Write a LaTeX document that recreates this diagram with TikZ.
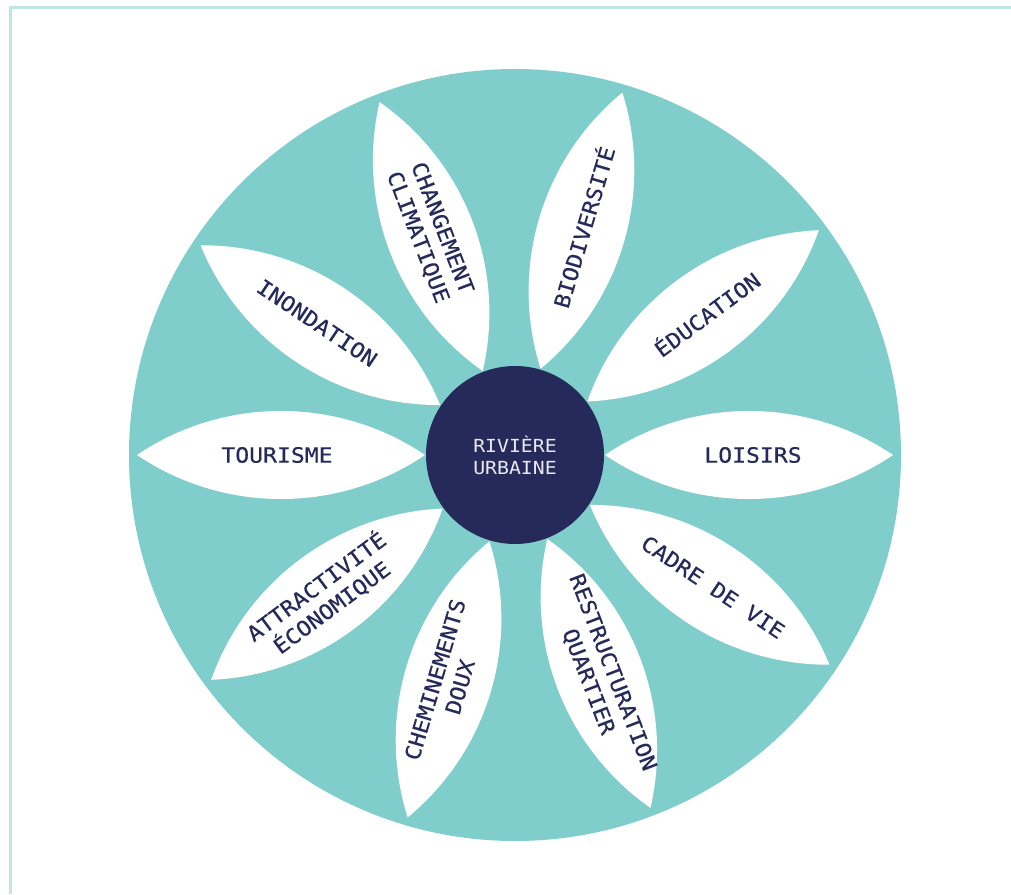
\documentclass[tikz,border=0pt]{standalone}
\usepackage{fontspec}
\newfontfamily\petalfont[FakeStretch=1.1,FakeBold=0.5]{DejaVu Sans Mono}
\newfontfamily\hubfont[FakeStretch=1.1]{DejaVu Sans Mono}
\definecolor{petalteal}{HTML}{80CECB}
\definecolor{darknavy}{HTML}{252A5A}
\definecolor{framecol}{HTML}{BFE6E4}
\definecolor{centertext}{HTML}{E8E8F0}
\tikzset{
  petaltext/.style={text=darknavy, font=\petalfont\fontsize{21}{26}\selectfont, align=center, inner sep=0pt},
  hubtext/.style={text=centertext, font=\hubfont\fontsize{18}{22.3}\selectfont, align=center, inner sep=0pt},
  petalshape/.style={fill=white},
}
\begin{document}
\begin{tikzpicture}[x=1pt,y=1pt]
\useasboundingbox (0,0) rectangle (1011,894);
\draw[line width=3pt, framecol] (10.5,0) -- (10.5,886.5) -- (1011,886.5);
\coordinate (c) at (515,439);
\fill[petalteal] (c) circle (386);
\foreach \a in {0,36.5,73.5,111,146.3,180,216.5,253.5,291,326.3}{
  \begin{scope}[shift={(c)}, rotate=\a]
    \fill[petalshape] (90,0) .. controls (177,58.7) and (291,58.7) .. (378,0)
                             .. controls (291,-58.7) and (177,-58.7) .. (90,0) -- cycle;
  \end{scope}
}
\foreach \i/\a/\r/\t in {
  1/0/0/{LOISIRS},
  2/36.5/36.5/{ÉDUCATION},
  3/73.5/73.5/{BIODIVERSITÉ},
  4/111/-69/{CHANGEMENT\\CLIMATIQUE},
  5/146.3/-33.7/{INONDATION},
  6/180/0/{TOURISME},
  7/216.5/36.5/{ATTRACTIVITÉ\\ÉCONOMIQUE},
  8/253.5/73.5/{CHEMINEMENTS\\DOUX},
  9/291/-69/{RESTRUCTURATION\\QUARTIER},
  10/326.3/-33.7/{CADRE DE VIE}}{
  \node[petaltext, rotate=\r] (p\i) at ([shift={(\a:238)}]c) {\t};
}
\fill[darknavy] (c) circle (89);
\node[hubtext] (hub) at (c) {RIVIÈRE\\URBAINE};
\end{tikzpicture}
\end{document}
